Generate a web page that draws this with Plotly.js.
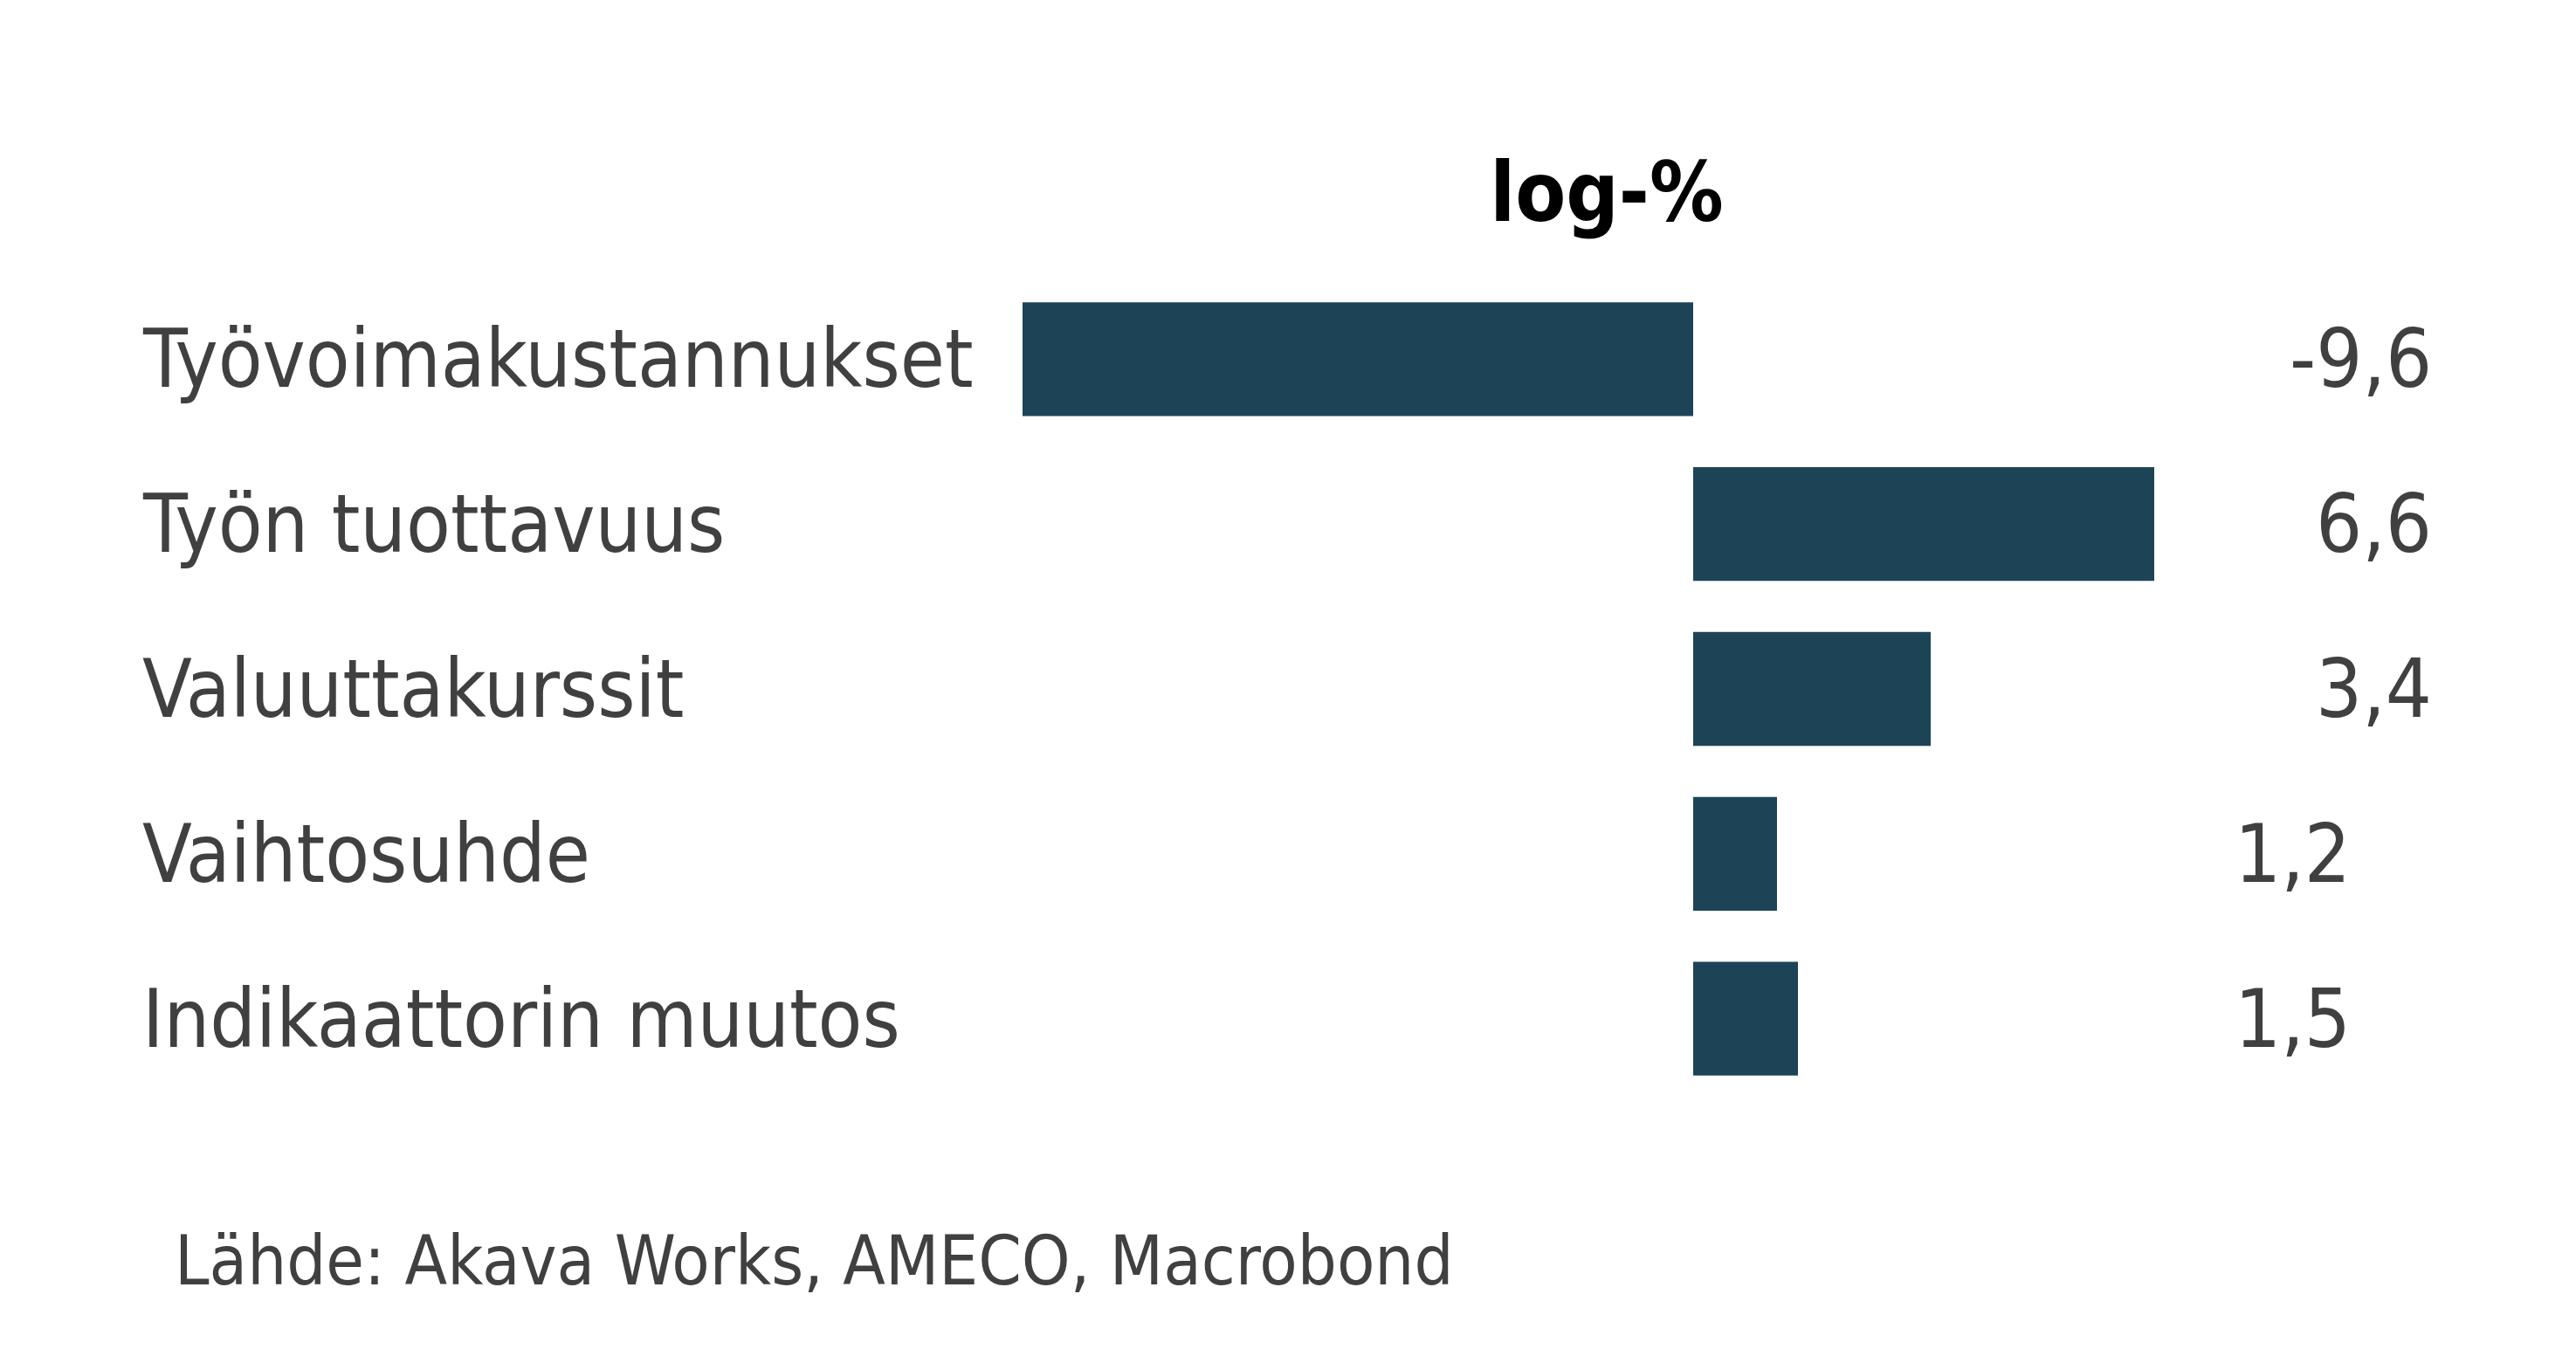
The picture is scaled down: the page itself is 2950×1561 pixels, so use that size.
<!DOCTYPE html>
<html>
<head>
<meta charset="utf-8">
<script src="https://cdn.plot.ly/plotly-3.0.1.min.js"></script>
<style>
  html, body { margin: 0; padding: 0; background: #fff; }
  #chart { width: 2950px; height: 1561px; }
</style>
</head>
<body>
<div id="chart"></div>
<script>
// contributions, log-%
const categories = ["Työvoimakustannukset", "Työn tuottavuus", "Valuuttakurssit", "Vaihtosuhde", "Indikaattorin muutos"];
const values = [-9.6, 6.6, 3.4, 1.2, 1.5];
const valueLabels = ["-9,6", "6,6", "3,4", "1,2", "1,5"];
const sourceText = "Lähde: Akava Works, AMECO, Macrobond";
const unitTitle = "log-%";

// the last two value labels sit a bit further left in the original
const valueLabelX = [0.995, 0.995, 0.995, 0.96, 0.96];

const font = "'DejaVu Sans Condensed', 'DejaVu Sans', sans-serif";
const textColor = "#404040";
const barColor = "#1d4456";

let bars = {
    type: "bar",
    orientation: "h",
    x: values,
    y: categories,
    marker: { color: barColor, line: { width: 0 } },
    hoverinfo: "none"
};

let annotations = [];
categories.forEach((c, i) => {
    annotations.push({
        xref: "paper", yref: "y", x: 0.004, y: c,
        xanchor: "left", yanchor: "middle",
        text: c, showarrow: false,
        font: { family: font, size: 92.5, color: textColor }
    });
    annotations.push({
        xref: "paper", yref: "y", x: valueLabelX[i], y: c,
        xanchor: "right", yanchor: "middle",
        text: valueLabels[i], showarrow: false,
        font: { family: font, size: 93, color: textColor }
    });
});
annotations.push({
    xref: "paper", yref: "paper", x: 0.018, y: -0.194,
    xanchor: "left", yanchor: "middle",
    text: sourceText, showarrow: false,
    font: { family: font, size: 79, color: textColor }
});

let layout = {
    width: 2950,
    height: 1561,
    margin: { l: 150, r: 150, t: 317, b: 300 },
    paper_bgcolor: "#fff",
    plot_bgcolor: "#fff",
    showlegend: false,
    bargap: 0.31,
    title: {
        text: "<b>" + unitTitle + "</b>",
        x: 0.6237, xanchor: "center",
        y: 0.859, yanchor: "middle",
        font: { family: font, size: 94, color: "#000" }
    },
    xaxis: {
        range: [-22.3625, 10.7625],
        showgrid: false, zeroline: false, showline: false,
        showticklabels: false, ticks: ""
    },
    yaxis: {
        autorange: "reversed",
        showgrid: false, zeroline: false, showline: false,
        showticklabels: false, ticks: ""
    },
    annotations: annotations
};

Plotly.newPlot("chart", [bars], layout, { staticPlot: true, displayModeBar: false });
</script>
</body>
</html>
